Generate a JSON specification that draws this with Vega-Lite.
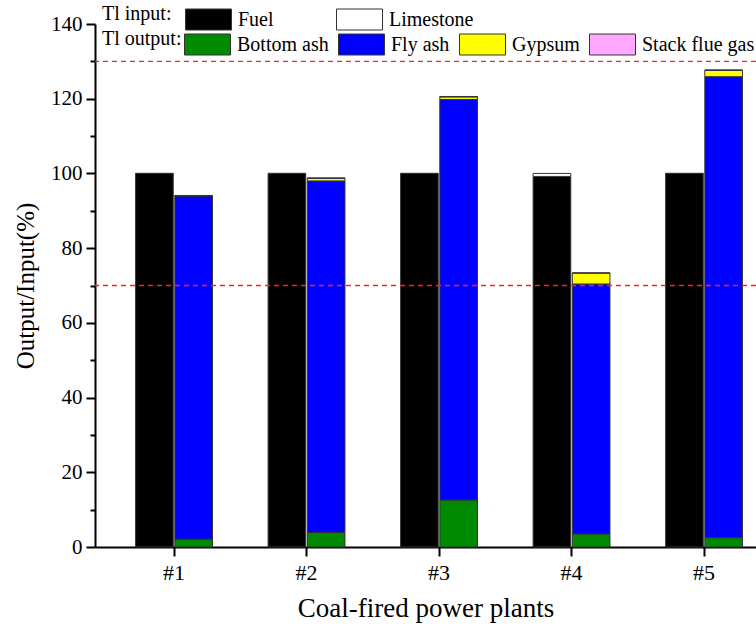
{
  "$schema": "https://vega.github.io/schema/vega-lite/v6.json",
  "autosize": "none",
  "width": 661,
  "height": 523,
  "padding": {"left": 95, "top": 24, "right": 0, "bottom": 90},
  "background": "white",
  "config": {
    "font": "Liberation Serif",
    "view": {"stroke": null},
    "legend": {
      "titleFont": "Liberation Serif",
      "labelFontSize": 20,
      "titleFontSize": 20,
      "titleFontWeight": "normal",
      "labelColor": "black",
      "titleColor": "black",
      "symbolType": "M-1,-0.4565H1V0.4565H-1Z",
      "symbolSize": 2116,
      "symbolStrokeColor": "#333333",
      "symbolStrokeWidth": 1,
      "symbolOpacity": 1,
      "labelOffset": 6,
      "padding": 0
    }
  },
  "data": {
    "values": [
      {"plant": "#1", "grp": "in", "comp": "Fuel", "idx": 1, "value": 100},
      {"plant": "#1", "grp": "in", "comp": "Limestone", "idx": 2, "value": 0},
      {"plant": "#1", "grp": "out", "comp": "Bottom ash", "idx": 1, "value": 2.1},
      {"plant": "#1", "grp": "out", "comp": "Fly ash", "idx": 2, "value": 91.9},
      {"plant": "#1", "grp": "out", "comp": "Gypsum", "idx": 3, "value": 0},
      {"plant": "#1", "grp": "out", "comp": "Stack flue gas", "idx": 4, "value": 0.1},
      {"plant": "#2", "grp": "in", "comp": "Fuel", "idx": 1, "value": 100},
      {"plant": "#2", "grp": "in", "comp": "Limestone", "idx": 2, "value": 0},
      {"plant": "#2", "grp": "out", "comp": "Bottom ash", "idx": 1, "value": 3.9},
      {"plant": "#2", "grp": "out", "comp": "Fly ash", "idx": 2, "value": 94.1},
      {"plant": "#2", "grp": "out", "comp": "Gypsum", "idx": 3, "value": 0.7},
      {"plant": "#2", "grp": "out", "comp": "Stack flue gas", "idx": 4, "value": 0.1},
      {"plant": "#3", "grp": "in", "comp": "Fuel", "idx": 1, "value": 100},
      {"plant": "#3", "grp": "in", "comp": "Limestone", "idx": 2, "value": 0},
      {"plant": "#3", "grp": "out", "comp": "Bottom ash", "idx": 1, "value": 12.6},
      {"plant": "#3", "grp": "out", "comp": "Fly ash", "idx": 2, "value": 107.2},
      {"plant": "#3", "grp": "out", "comp": "Gypsum", "idx": 3, "value": 0.7},
      {"plant": "#3", "grp": "out", "comp": "Stack flue gas", "idx": 4, "value": 0.1},
      {"plant": "#4", "grp": "in", "comp": "Fuel", "idx": 1, "value": 99.2},
      {"plant": "#4", "grp": "in", "comp": "Limestone", "idx": 2, "value": 0.8},
      {"plant": "#4", "grp": "out", "comp": "Bottom ash", "idx": 1, "value": 3.5},
      {"plant": "#4", "grp": "out", "comp": "Fly ash", "idx": 2, "value": 66.9},
      {"plant": "#4", "grp": "out", "comp": "Gypsum", "idx": 3, "value": 2.9},
      {"plant": "#4", "grp": "out", "comp": "Stack flue gas", "idx": 4, "value": 0.1},
      {"plant": "#5", "grp": "in", "comp": "Fuel", "idx": 1, "value": 100},
      {"plant": "#5", "grp": "in", "comp": "Limestone", "idx": 2, "value": 0},
      {"plant": "#5", "grp": "out", "comp": "Bottom ash", "idx": 1, "value": 2.5},
      {"plant": "#5", "grp": "out", "comp": "Fly ash", "idx": 2, "value": 123.4},
      {"plant": "#5", "grp": "out", "comp": "Gypsum", "idx": 3, "value": 1.7},
      {"plant": "#5", "grp": "out", "comp": "Stack flue gas", "idx": 4, "value": 0.1}
    ]
  },
  "encoding": {
    "x": {
      "field": "plant",
      "type": "nominal",
      "scale": {"paddingInner": 0.42, "paddingOuter": 0.2043, "align": 0.75},
      "axis": {
        "title": "Coal-fired power plants",
        "titleFont": "Liberation Serif",
        "titleFontSize": 27,
        "titleFontWeight": "normal",
        "titleColor": "black",
        "titlePadding": 12,
        "labelFont": "Liberation Serif",
        "labelAngle": 0,
        "labelFontSize": 22,
        "labelColor": "black",
        "labelPadding": 6,
        "domainColor": "black",
        "domainWidth": 2,
        "tickColor": "black",
        "tickWidth": 2,
        "tickSize": 9,
        "grid": false
      }
    },
    "y": {
      "field": "value",
      "type": "quantitative",
      "stack": "zero",
      "scale": {"domain": [0, 140], "nice": false},
      "axis": {
        "title": "Output/Input(%)",
        "titleFont": "Liberation Serif",
        "titleFontSize": 25,
        "titleFontWeight": "normal",
        "titleColor": "black",
        "titlePadding": 12,
        "values": [0, 10, 20, 30, 40, 50, 60, 70, 80, 90, 100, 110, 120, 130, 140],
        "labelExpr": "datum.value % 20 === 0 ? datum.label : ''",
        "labelFont": "Liberation Serif",
        "labelFontSize": 21,
        "labelColor": "black",
        "labelPadding": 4,
        "domainColor": "black",
        "domainWidth": 2,
        "tickColor": "black",
        "tickWidth": 2,
        "tickSize": {"condition": {"test": "datum.value % 20 === 0", "value": 9}, "value": 5},
        "grid": false
      }
    },
    "xOffset": {"field": "grp", "type": "nominal", "scale": {"domain": ["in", "out"], "paddingInner": 0.04}},
    "order": {"field": "idx", "type": "quantitative"}
  },
  "layer": [
    {
      "transform": [{"filter": "datum.grp === 'in'"}],
      "mark": {"type": "bar", "stroke": "#333333", "strokeWidth": 1},
      "encoding": {
        "fill": {
          "field": "comp",
          "type": "nominal",
          "scale": {"domain": ["Fuel", "Limestone"], "range": ["#000000", "#ffffff"]},
          "legend": {
            "title": "Tl input:",
            "orient": "none",
            "legendX": 7,
            "legendY": -28,
            "direction": "horizontal",
            "titleOrient": "left",
            "titlePadding": 13,
            "gridAlign": "all",
            "columnPadding": 11,
            "labelFont": "Times New Roman"
          }
        }
      }
    },
    {
      "transform": [{"filter": "datum.grp === 'out'"}],
      "mark": {"type": "bar", "stroke": "#333333", "strokeWidth": 1},
      "encoding": {
        "fill": {
          "field": "comp",
          "type": "nominal",
          "scale": {"domain": ["Bottom ash", "Fly ash", "Gypsum", "Stack flue gas"], "range": ["#008a00", "#0000ff", "#ffff00", "#ffa8ff"]},
          "legend": {
            "title": "Tl output:",
            "orient": "none",
            "legendX": 7,
            "legendY": -3,
            "direction": "horizontal",
            "titleOrient": "left",
            "titlePadding": 2,
            "gridAlign": "none",
            "columnPadding": 7,
            "labelFont": "Times"
          }
        }
      }
    },
    {
      "data": {"values": [{"ref": 70}, {"ref": 130}]},
      "mark": {"type": "rule", "strokeWidth": 1.3, "strokeDash": [5, 4]},
      "encoding": {
        "x": null,
        "xOffset": null,
        "order": null,
        "y": {"field": "ref", "type": "quantitative", "stack": null},
        "stroke": {"value": "#ff2020"}
      }
    }
  ],
  "resolve": {"scale": {"fill": "independent"}}
}
